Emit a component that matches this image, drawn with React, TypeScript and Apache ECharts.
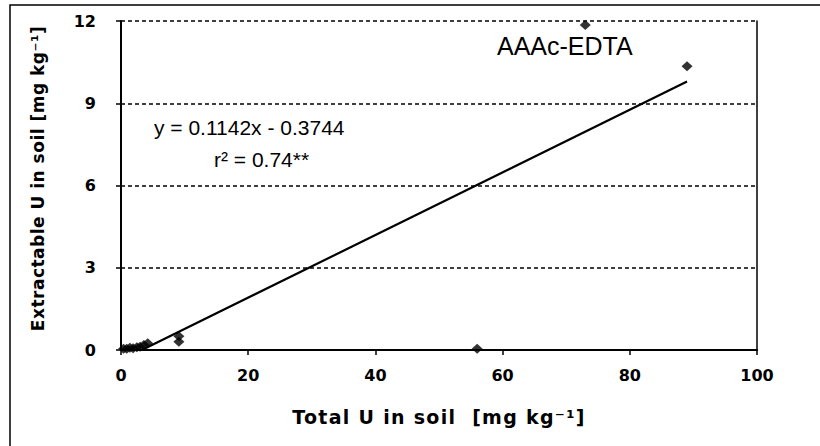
import React, { useEffect, useRef } from "react";
import * as echarts from "echarts";

// Measured data points (Total U vs extractable U)
const totalU = [0.4, 0.9, 1.4, 1.9, 2.5, 3.0, 3.6, 4.2, 9.1, 9.1, 56, 73, 89];
const extractableU = [0.05, 0.05, 0.08, 0.06, 0.1, 0.12, 0.18, 0.25, 0.5, 0.3, 0.05, 11.85, 10.35];

// Linear trendline coefficients and its visible x-range
const slope = 0.1142;
const intercept = -0.3744;
const trendXRange = [3.28, 89];

const xAxisRange = [0, 100];
const xInterval = 20;
const yAxisRange = [0, 12];
const yInterval = 3;

const seriesLabel = "AAAc-EDTA";
const equationText = "y = 0.1142x - 0.3744";
const r2Text = "r\u00B2 = 0.74**";
const xTitle = "Total U in soil  [mg kg\u207B\u00B9]";
const yTitle = "Extractable U in soil [mg kg\u207B\u00B9]";

export default function App() {
  const ref = useRef<HTMLDivElement>(null);

  useEffect(() => {
    if (!ref.current) return;
    const chart = echarts.init(ref.current, null, { renderer: "svg" });
    const scatterData = totalU.map((x, i) => [x, extractableU[i]]);
    const trendData = trendXRange.map((x) => [x, slope * x + intercept]);
    const boldFont = "DejaVu Sans";
    const normalFont = "Liberation Sans";

    chart.setOption({
      animation: false,
      backgroundColor: "#ffffff",
      grid: { left: 121, top: 21, right: 63, bottom: 96, containLabel: false },
      xAxis: {
        type: "value",
        min: xAxisRange[0],
        max: xAxisRange[1],
        interval: xInterval,
        name: xTitle,
        nameLocation: "middle",
        nameGap: 57,
        nameTextStyle: { fontFamily: boldFont, fontWeight: "bold", fontSize: 19, color: "#000" },
        axisLine: { show: true, onZero: false, lineStyle: { color: "#000", width: 2 } },
        axisTick: { show: true, inside: false, length: 5, lineStyle: { color: "#000", width: 1.5 } },
        axisLabel: { margin: 17, fontFamily: boldFont, fontWeight: "bold", fontSize: 16, color: "#000" },
        splitLine: { show: false },
      },
      yAxis: [
        {
          type: "value",
          min: yAxisRange[0],
          max: yAxisRange[1],
          interval: yInterval,
          name: yTitle,
          nameLocation: "middle",
          nameRotate: 90,
          nameGap: 75,
          nameTextStyle: {
            fontFamily: boldFont,
            fontWeight: "bold",
            fontSize: 17,
            color: "#000",
            padding: [0, 0, 0, 14],
          },
          axisLine: { show: true, onZero: false, lineStyle: { color: "#000", width: 2 } },
          axisTick: { show: true, inside: false, length: 5, lineStyle: { color: "#000", width: 1.5 } },
          axisLabel: { margin: 25, fontFamily: boldFont, fontWeight: "bold", fontSize: 16, color: "#000" },
          splitLine: { show: true, lineStyle: { color: "#000", width: 1.5, type: [4, 3] } },
        },
        {
          type: "value",
          position: "right",
          min: yAxisRange[0],
          max: yAxisRange[1],
          interval: yInterval,
          axisLine: { show: true, onZero: false, lineStyle: { color: "#000", width: 1.5 } },
          axisTick: { show: false },
          axisLabel: { show: false },
          splitLine: { show: false },
        },
      ],
      series: [
        {
          type: "line",
          data: trendData,
          showSymbol: false,
          symbol: "none",
          lineStyle: { color: "#000", width: 2.2 },
          z: 2,
          silent: true,
        },
        {
          type: "scatter",
          data: scatterData,
          symbol: "diamond",
          symbolSize: [11, 10],
          itemStyle: { color: "#000" },
          z: 3,
        },
      ],
      graphic: [
        {
          type: "rect",
          shape: { x: 10, y: 5, width: 830, height: 470 },
          style: { fill: "none", stroke: "#000", lineWidth: 1.5 },
          silent: true,
        },
        {
          type: "text",
          x: 497,
          y: 46,
          style: {
            text: seriesLabel,
            fontFamily: normalFont,
            fontSize: 25,
            fill: "#000",
            verticalAlign: "middle",
            textAlign: "left",
          },
        },
        {
          type: "text",
          x: 154,
          y: 127,
          style: {
            text: equationText,
            fontFamily: normalFont,
            fontSize: 21,
            fill: "#000",
            verticalAlign: "middle",
            textAlign: "left",
          },
        },
        {
          type: "text",
          x: 214,
          y: 159,
          style: {
            text: r2Text,
            fontFamily: normalFont,
            fontSize: 21,
            fill: "#000",
            verticalAlign: "middle",
            textAlign: "left",
          },
        },
      ],
    });

    return () => {
      chart.dispose();
    };
  }, []);

  return (
    <div style={{ position: "fixed", left: 0, top: 0, width: 820, height: 446, background: "#fff" }}>
      <style>
        {'text[style*="bold"][style*="19px"] { letter-spacing: 1.3px; } text[style*="bold"][style*="17px"] { letter-spacing: 0.5px; }'}
      </style>
      <div ref={ref} style={{ width: 820, height: 446 }} />
    </div>
  );
}
